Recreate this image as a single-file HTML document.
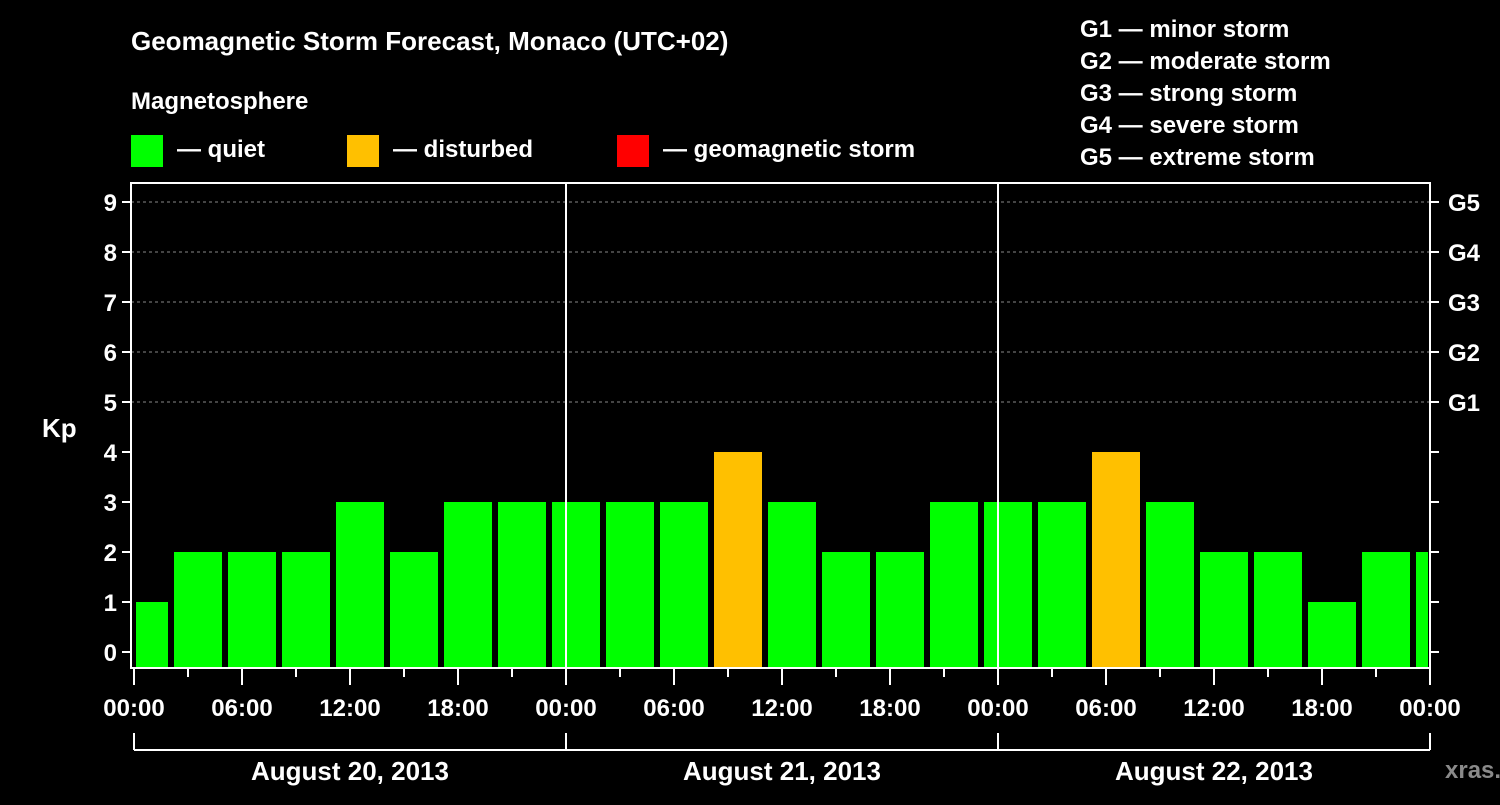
<!DOCTYPE html>
<html><head><meta charset="utf-8"><style>
html,body{margin:0;padding:0;background:#000;}
svg text{font-family:"Liberation Sans",sans-serif;font-weight:bold;fill:#fff;}
</style></head><body>
<svg id="chart" width="1500" height="800" xmlns="http://www.w3.org/2000/svg">
<rect width="1500" height="800" fill="#000"/>
<text x="131" y="50" font-size="26">Geomagnetic Storm Forecast, Monaco (UTC+02)</text>
<text x="131" y="109" font-size="24">Magnetosphere</text>
<g>
<rect x="131" y="135" width="32" height="32" fill="#00ff00"/>
<text x="177" y="157" font-size="24">— quiet</text>
<rect x="347" y="135" width="32" height="32" fill="#ffc000"/>
<text x="393" y="157" font-size="24">— disturbed</text>
<rect x="617" y="135" width="32" height="32" fill="#ff0000"/>
<text x="663" y="157" font-size="24">— geomagnetic storm</text>
</g>
<g font-size="24">
<text x="1080" y="37">G1 — minor storm</text>
<text x="1080" y="69">G2 — moderate storm</text>
<text x="1080" y="101">G3 — strong storm</text>
<text x="1080" y="133">G4 — severe storm</text>
<text x="1080" y="165">G5 — extreme storm</text>
</g>
<text x="42" y="437" font-size="26">Kp</text>
<text x="1445" y="778" font-size="24" fill="#888" style="fill:#8a8a8a">xras.ru</text>
<g id="grid"></g><g id="bars"></g><g id="axes"></g>
</svg>
<script>
const kpValues=[1,2,2,2,3,2,3,3,3,3,3,4,3,2,2,3,3,3,4,3,2,2,1,2,2];
const yTicks=[0,1,2,3,4,5,6,7,8,9];
const gLabels=["G1","G2","G3","G4","G5"];
const xTickLabels=["00:00","06:00","12:00","18:00","00:00","06:00","12:00","18:00","00:00","06:00","12:00","18:00","00:00"];
const dayLabels=["August 20, 2013","August 21, 2013","August 22, 2013"];
const utcOffset=2, slotHours=3, totalHours=72;
const NS="http://www.w3.org/2000/svg";
const X0=134,PXH=18,Y0=652,PXK=50,TOP=183,BOT=668,LEFT=131,RIGHT=1430;
const x=h=>X0+h*PXH, y=v=>Y0-v*PXK;
function mk(tag,attrs,parent,text){const e=document.createElementNS(NS,tag);for(const k in attrs)e.setAttribute(k,attrs[k]);if(text!==undefined)e.textContent=text;document.getElementById(parent).appendChild(e);return e;}
// grid
for(let v=5;v<=9;v++){const l=mk('line',{x1:LEFT,x2:RIGHT,y1:y(v),y2:y(v),stroke:'#888','stroke-dasharray':'3,3','stroke-width':1},'grid');

}
// bars
kpValues.forEach((v,i)=>{
 let start=i===0?0:(i-1)*slotHours+utcOffset, end=i===0?utcOffset:Math.min(start+slotHours,totalHours);
 let x1=x(start)+(i===0?2:4), x2=x(end)-(end>=totalHours?2:2);
 const color=v>=5?'#ff0000':(v>=4?'#ffc000':'#00ff00');
 const r=mk('rect',{x:x1,y:y(v),width:Math.max(0,x2-x1),height:BOT-1-y(v),fill:color},'bars');
 
 
});
// frame
mk('rect',{x:LEFT,y:TOP,width:RIGHT-LEFT,height:BOT-TOP,fill:'none',stroke:'#fff','stroke-width':2},'axes');
[24,48].forEach(h=>{const l=mk('line',{x1:x(h),x2:x(h),y1:TOP,y2:BOT,stroke:'#fff','stroke-width':2},'axes');

});
yTicks.forEach(v=>{
 mk('line',{x1:LEFT-9,x2:LEFT,y1:y(v),y2:y(v),stroke:'#fff','stroke-width':2},'axes');
 mk('line',{x1:RIGHT,x2:RIGHT+9,y1:y(v),y2:y(v),stroke:'#fff','stroke-width':2},'axes');
 const t=mk('text',{x:LEFT-14,y:y(v)+9,'font-size':24,'text-anchor':'end'},'axes',String(v));
 
 
});
gLabels.forEach((g,i)=>{const t=mk('text',{x:RIGHT+18,y:y(5+i)+9,'font-size':24},'axes',g);
 
 });
for(let h=0;h<=totalHours;h+=3){const major=h%6===0;
 mk('line',{x1:x(h),x2:x(h),y1:BOT,y2:BOT+(major?17:9),stroke:'#fff','stroke-width':2},'axes');}
xTickLabels.forEach((s,i)=>{const t=mk('text',{x:x(i*6),y:716,'font-size':24,'text-anchor':'middle'},'axes',s);
 
 });
mk('line',{x1:x(0),x2:x(totalHours),y1:750,y2:750,stroke:'#fff','stroke-width':2},'axes');
for(let d=0;d<=3;d++)mk('line',{x1:x(d*24),x2:x(d*24),y1:733,y2:750,stroke:'#fff','stroke-width':2},'axes');
dayLabels.forEach((s,i)=>{const t=mk('text',{x:x(i*24+12),y:780,'font-size':26,'text-anchor':'middle'},'axes',s);
 
 });
</script>
</body></html>
